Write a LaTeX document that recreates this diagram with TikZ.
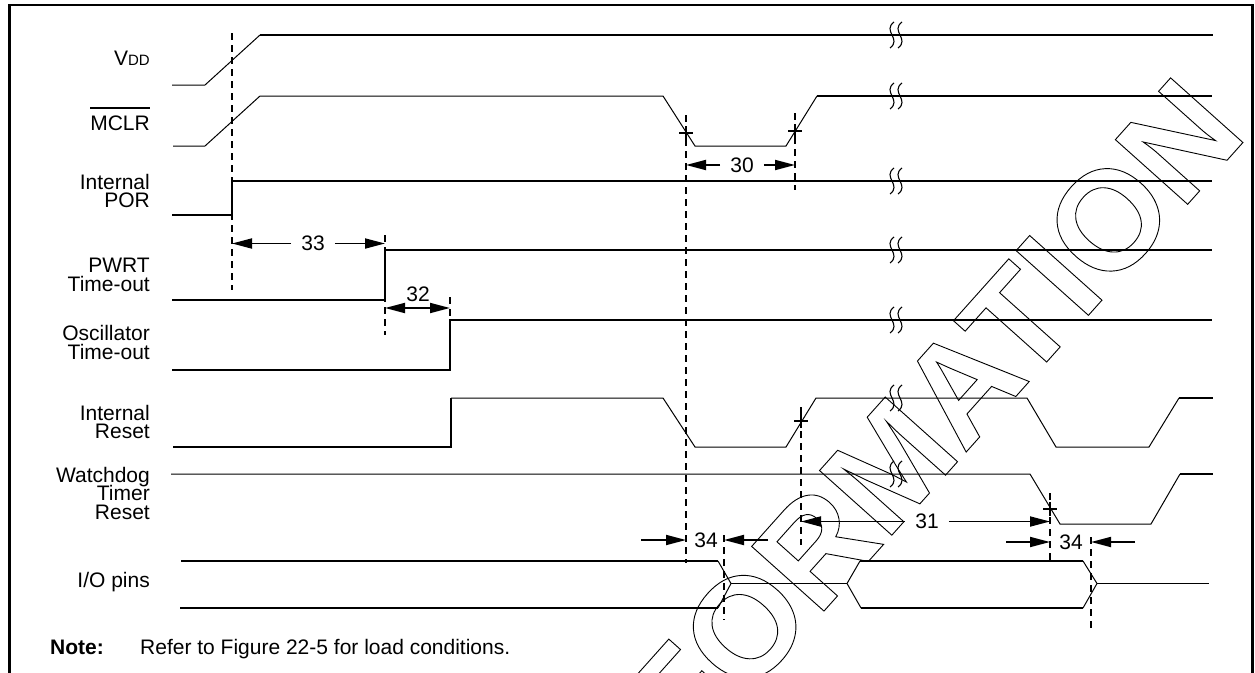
\documentclass[tikz,border=0pt]{standalone}
\usepackage{fontspec}
\setmainfont{Liberation Sans}
\usetikzlibrary{arrows.meta}
\begin{document}
\begin{tikzpicture}[x=1pt,y=-1pt,
  thk/.style={line width=1.8pt},
  thn/.style={line width=1pt},
  guide/.style={line width=1.8pt, dash pattern=on 6.5pt off 5.5pt},
  dimr/.style={line width=1.8pt, -{Triangle[length=20pt,width=10pt]}},
  dimb/.style={line width=1.8pt, {Triangle[length=20pt,width=10pt]}-{Triangle[length=20pt,width=10pt]}},
  lbl/.style={font=\fontsize{21}{21}\selectfont, inner sep=0pt, anchor=base east},
  num/.style={font=\fontsize{21}{21}\selectfont, inner xsep=10pt, inner ysep=0pt},
  tickx/.pic={\draw[line width=1.5pt] (-7,0) -- (7,0) (0,-7) -- (0,7);},
  brkmark/.pic={\draw[line width=1.1pt] (0,-13) .. controls (-12,-4) and (8,4) .. (-4,13);
                \draw[line width=1.1pt] (8,-13) .. controls (-4,-4) and (16,4) .. (4,13);}]

\useasboundingbox (0,0) rectangle (1255,672);

% frame
\draw[line width=2.5pt] (9.5,700) -- (9.5,5) -- (1252.5,5) -- (1252.5,700);

% watermark (outlined text)
\begin{scope}
\clip (10,6) rectangle (1252,672);
\node[rotate=48.2, inner sep=0pt, font=\fontsize{141}{141}\selectfont\bfseries] (wm) at (885,470)
  {\special{pdf:literal direct 1 Tr 0.9 w}INFORMATION\special{pdf:literal direct 0 Tr}};
\end{scope}

% labels
\node[lbl] (lvdd) at (150,65) {V{\fontsize{15}{15}\selectfont DD}};
\node[lbl] (lmclr) at (150,130) {MCLR};
\draw[line width=1.3pt] ([yshift=7pt]lmclr.north west) -- ([yshift=7pt]lmclr.north east);
\node[lbl] (lpor1) at (150,189) {Internal};
\node[lbl] (lpor2) at (150,207.5) {POR};
\node[lbl] (lpw1) at (150,272.5) {PWRT};
\node[lbl] (lpw2) at (150,291) {Time-out};
\node[lbl] (losc1) at (150,340.5) {Oscillator};
\node[lbl] (losc2) at (150,359) {Time-out};
\node[lbl] (lir1) at (150,420) {Internal};
\node[lbl] (lir2) at (150,438.5) {Reset};
\node[lbl] (lwd1) at (150,482) {Watchdog};
\node[lbl] (lwd2) at (150,500.5) {Timer};
\node[lbl] (lwd3) at (150,519) {Reset};
\node[lbl] (lio) at (150,587) {I/O pins};
\node[font=\fontsize{21}{21}\selectfont\bfseries, anchor=base west, inner sep=0pt] (note) at (50,654) {Note:};
\node[font=\fontsize{21}{21}\selectfont, anchor=base west, inner sep=0pt] (notetxt) at (140,654) {Refer to Figure 22-5 for load conditions.};

% signals
% VDD
\draw[thn] (172,85) -- (205,85) -- (260,35);
\draw[thk] (260,35) -- (1213,35);
% MCLR
\draw[thn] (173,146) -- (205,146) -- (260,96) -- (663,96) -- (695,146) -- (786,146) -- (817,96);
\draw[thk] (817,96) -- (1212,96);
% Internal POR
\draw[thk] (172,215) -- (232,215) -- (232,181) -- (1212,181);
% PWRT
\draw[thk] (172,300) -- (385,300) -- (385,250) -- (1212,250);
% Oscillator
\draw[thk] (172,370) -- (450,370) -- (450,320) -- (1212,320);
% Internal Reset
\draw[thk] (173,447) -- (451,447) -- (451,398);
\draw[thn] (451,398) -- (663,398) -- (695,447) -- (786,447) -- (816,398) -- (1027,398) -- (1056,447) -- (1149,447) -- (1179,398);
\draw[thk] (1179,398) -- (1213,398);
% Watchdog
\draw[thn] (171,474) -- (1030,474) -- (1060,524) -- (1151,524) -- (1180,474);
\draw[thk] (1180,474) -- (1213,474);
% I/O pins
\draw[thk] (181,561) -- (718,561);
\draw[thk] (180,608) -- (718,608);
\draw[thn] (718,561) -- (731,583.5) -- (718,608);
\draw[thk] (731,583.5) -- (847,583.5);
\draw[thn] (847,583.5) -- (860,561) (847,583.5) -- (861,608);
\draw[thk] (860,561) -- (1083,561) (861,608) -- (1083,608);
\draw[thn] (1083,561) -- (1097,583.5) -- (1083,608);
\draw[thk] (1097,583.5) -- (1209,583.5);

% break marks
\foreach \yy in {35,96,181,250,320,398,474} { \pic at (894,\yy) {brkmark}; }

% guides
\coordinate (g1t) at (232,33);  \coordinate (g1b) at (232,290);
\coordinate (g2t) at (686,115); \coordinate (g2b) at (686,563);
\coordinate (g3t) at (795,113); \coordinate (g3b) at (795,190);
\coordinate (g4t) at (385,235); \coordinate (g4b) at (385,335);
\coordinate (g5t) at (450,297); \coordinate (g5b) at (450,316);
\coordinate (g6t) at (801,407); \coordinate (g6b) at (801,545);
\coordinate (g7t) at (1050,493); \coordinate (g7b) at (1050,563);
\coordinate (g8t) at (724,535); \coordinate (g8b) at (724,620);
\coordinate (g9t) at (1091,537); \coordinate (g9b) at (1091,632);
\foreach \g in {g1,g2,g3,g4,g5,g6,g7,g8,g9} { \draw[guide] (\g t) -- (\g b); }

% crosses
\pic at (686,133) {tickx};
\pic at (795,131) {tickx};
\pic at (801,421) {tickx};
\pic at (1050,509) {tickx};

% dimensions
\node[num] (n33) at (313,243.5) {33};
\draw[dimr] (n33.west) -- (g1t |- n33);
\draw[dimr] (n33.east) -- (g4t |- n33);

\node[num, inner sep=0pt] (n32) at (418,294) {32};
\draw[dimb] (385,308) -- (450,308);

\node[num] (n30) at (742,165) {30};
\draw[dimr] (n30.west) -- (g2t |- n30);
\draw[dimr] (n30.east) -- (g3t |- n30);

\node[num] (n31) at (927,521.5) {31};
\draw[dimr] (n31.west) -- (g6t |- n31);
\draw[dimr] (n31.east) -- (g7t |- n31);

\node[num] (n34a) at (706,540) {34};
\coordinate (a34l) at (641,540); \coordinate (a34r) at (768,540);
\draw[dimr] (a34l) -- (g2t |- n34a);
\draw[dimr] (a34r) -- (g8t |- n34a);

\node[num] (n34b) at (1071,542) {34};
\coordinate (b34l) at (1006,542); \coordinate (b34r) at (1135,542);
\draw[dimr] (b34l) -- (g7t |- n34b);
\draw[dimr] (b34r) -- (g9t |- n34b);

\end{tikzpicture}
\end{document}
